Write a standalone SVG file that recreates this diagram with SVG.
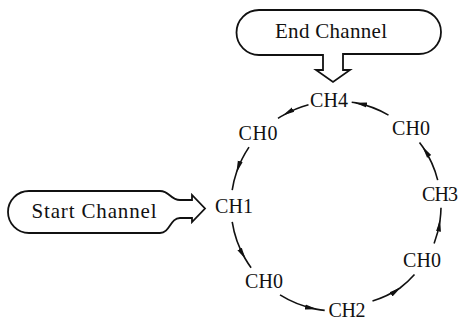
<svg xmlns="http://www.w3.org/2000/svg" width="461" height="320" viewBox="0 0 461 320">
<style>
  .shape { fill: #fff; stroke: #111; stroke-width: 1.8; stroke-linejoin: miter; }
  .box { font-family: "Liberation Serif", "DejaVu Serif", serif; font-size: 21px; fill: #111; text-anchor: middle; }
  .ch { font-family: "Liberation Serif", "DejaVu Serif", serif; font-size: 20px; fill: #111; text-anchor: middle; }
  .arc { fill: none; stroke: #111; stroke-width: 1.6; marker-mid: url(#ah); }
</style>
<defs>
  <marker id="ah" markerWidth="12" markerHeight="7" refX="11" refY="3.5" orient="auto" markerUnits="userSpaceOnUse">
    <path d="M0,1 L12,3.5 L0,6 z" fill="#111"/>
  </marker>
</defs>
<rect width="461" height="320" fill="#fff"/>

<g id="end-channel">
  <path class="shape" d="M260,10 L419,10 A22,22 0 0 1 419,54 L343,54 L343,70 L350,70 L333,82 L316,70 L323,70 L323,55 L259,55 A22.5,22.5 0 0 1 259,10 Z"/>
  <text class="box" x="331" y="38" textLength="112" lengthAdjust="spacing">End Channel</text>
</g>

<g id="start-channel">
  <path class="shape" d="M29,191 L160,191 C170,191 170,200 180,200 L192,200 L192,195 L205,208.5 L192,222 L192,218 L180,218 C170,218 170,233 160,233 L29,233 A21,21 0 0 1 29,191 Z"/>
  <text class="box" x="94" y="218" font-size="20" textLength="125" lengthAdjust="spacing">Start Channel</text>
</g>

<g id="ch4"><text class="ch" x="329" y="106.5" textLength="38" lengthAdjust="spacing">CH4</text></g>
<g id="ch0-top-left"><text class="ch" x="258" y="140" textLength="39" lengthAdjust="spacing">CH0</text></g>
<g id="ch1"><text class="ch" x="234" y="213" textLength="38" lengthAdjust="spacing">CH1</text></g>
<g id="ch0-bottom-left"><text class="ch" x="264" y="288" textLength="38" lengthAdjust="spacing">CH0</text></g>
<g id="ch2"><text class="ch" x="347" y="317" textLength="37" lengthAdjust="spacing">CH2</text></g>
<g id="ch0-bottom-right"><text class="ch" x="422" y="267" textLength="38" lengthAdjust="spacing">CH0</text></g>
<g id="ch3"><text class="ch" x="440" y="201" textLength="36" lengthAdjust="spacing">CH3</text></g>
<g id="ch0-top-right"><text class="ch" x="411" y="135" textLength="38" lengthAdjust="spacing">CH0</text></g>

<g id="connectors">
  <path class="arc" d="M308.5,104.7 A105,105 0 0 0 283.5,115.1 A105,105 0 0 0 278,118.4"/>
  <path class="arc" d="M249,147.1 A105,105 0 0 0 236.7,171.8 A105,105 0 0 0 232.2,190.1"/>
  <path class="arc" d="M232.2,221.9 A105,105 0 0 0 245.1,258.5 A105,105 0 0 0 251.1,267.7"/>
  <path class="arc" d="M280,294.9 A105,105 0 0 0 316,309.1 A105,105 0 0 0 324.7,310.4"/>
  <path class="arc" d="M372.5,301 A104,104 0 0 0 400,288 A104,104 0 0 0 414.5,274.5"/>
  <path class="arc" d="M434.1,243.5 A105,105 0 0 0 440,220.6 A105,105 0 0 0 441,207.8"/>
  <path class="arc" d="M437.7,180.1 A105,105 0 0 0 423,147.3 A105,105 0 0 0 419.5,142.4"/>
  <path class="arc" d="M388.5,115.1 A105,105 0 0 0 356,102.9 A105,105 0 0 0 351.7,102.2"/>
</g>
</svg>
